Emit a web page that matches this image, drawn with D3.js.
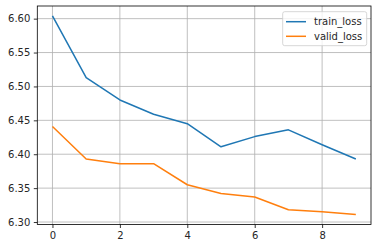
<!DOCTYPE html>
<html>
<head>
<meta charset="utf-8">
<script src="https://cdn.jsdelivr.net/npm/d3@7"></script>
<style>
  body { margin: 0; background: white; }
  text { font-family: "DejaVu Sans", sans-serif; }
</style>
</head>
<body>
<div id="chart"></div>
<script>
const epochs = [0, 1, 2, 3, 4, 5, 6, 7, 8, 9];
const trainLoss = [6.604, 6.513, 6.480, 6.459, 6.445, 6.411, 6.426, 6.436, 6.414, 6.393];
const validLoss = [6.441, 6.393, 6.386, 6.386, 6.355, 6.342, 6.337, 6.318, 6.315, 6.311];
const xTicks = [0, 2, 4, 6, 8];
const yTicks = [6.30, 6.35, 6.40, 6.45, 6.50, 6.55, 6.60];
const seriesNames = ["train_loss", "valid_loss"];
const colors = ["#1f77b4", "#ff7f0e"];

const wSvg = 378, hSvg = 248;
const pLeft = 37.3, pRight = 371, pTop = 6, pBottom = 224.5;

const svg = d3.select("#chart").append("svg")
    .attr("width", wSvg)
    .attr("height", hSvg);

let xScale = d3.scaleLinear([-0.45, 9.45], [pLeft, pRight]);
let yMin = 6.311, yMax = 6.604, pad = (yMax - yMin) * 0.05;
let yScale = d3.scaleLinear([yMin - pad, yMax + pad], [pBottom, pTop]);

// grid
svg.append("g")
    .selectAll("line")
    .data(xTicks)
    .enter()
    .append("line")
    .attr("x1", d => xScale(d)).attr("x2", d => xScale(d))
    .attr("y1", pTop).attr("y2", pBottom)
    .attr("stroke", "#b0b0b0").attr("stroke-width", 0.8);

svg.append("g")
    .selectAll("line")
    .data(yTicks)
    .enter()
    .append("line")
    .attr("x1", pLeft).attr("x2", pRight)
    .attr("y1", d => yScale(d)).attr("y2", d => yScale(d))
    .attr("stroke", "#b0b0b0").attr("stroke-width", 0.8);

// lines
let line = d3.line()
    .x((d, i) => xScale(epochs[i]))
    .y(d => yScale(d));

[trainLoss, validLoss].forEach((s, i) => {
    svg.append("path")
        .attr("d", line(s))
        .attr("fill", "none")
        .attr("stroke", colors[i])
        .attr("stroke-width", 1.5)
        .attr("stroke-linejoin", "round");
});

// axes
let xAxis = d3.axisBottom(xScale).tickValues(xTicks).tickSize(3.5).tickPadding(3.5).tickFormat(d3.format("d"));
svg.append("g")
    .attr("transform", `translate(0, ${pBottom})`)
    .call(xAxis)
    .call(g => g.select(".domain").remove())
    .selectAll("text")
    .attr("font-size", 10)
    .attr("fill", "#262626")
    .attr("font-family", "DejaVu Sans");

let yAxis = d3.axisLeft(yScale).tickValues(yTicks).tickSize(3.5).tickPadding(3.5).tickFormat(d3.format(".2f"));
svg.append("g")
    .attr("transform", `translate(${pLeft}, 0)`)
    .call(yAxis)
    .call(g => g.select(".domain").remove())
    .selectAll("text")
    .attr("font-size", 10)
    .attr("fill", "#262626")
    .attr("font-family", "DejaVu Sans");

svg.selectAll(".tick line").attr("stroke", "black").attr("stroke-width", 0.8);

// frame
svg.append("rect")
    .attr("x", pLeft).attr("y", pTop)
    .attr("width", pRight - pLeft).attr("height", pBottom - pTop)
    .attr("fill", "none")
    .attr("stroke", "black")
    .attr("stroke-width", 0.8);

// legend
let legend = svg.append("g");
legend.append("rect")
    .attr("x", 282.7).attr("y", 11.7)
    .attr("width", 84).attr("height", 34)
    .attr("rx", 2)
    .attr("fill", "white").attr("fill-opacity", 0.8)
    .attr("stroke", "#cccccc").attr("stroke-width", 0.8);

seriesNames.forEach((name, i) => {
    let yy = 21.7 + i * 14.6;
    legend.append("line")
        .attr("x1", 286).attr("x2", 306)
        .attr("y1", yy).attr("y2", yy)
        .attr("stroke", colors[i]).attr("stroke-width", 1.5);
    legend.append("text")
        .attr("x", 314).attr("y", yy + 3.5)
        .attr("font-size", 10)
        .attr("fill", "#262626")
        .text(name);
});
</script>
</body>
</html>
